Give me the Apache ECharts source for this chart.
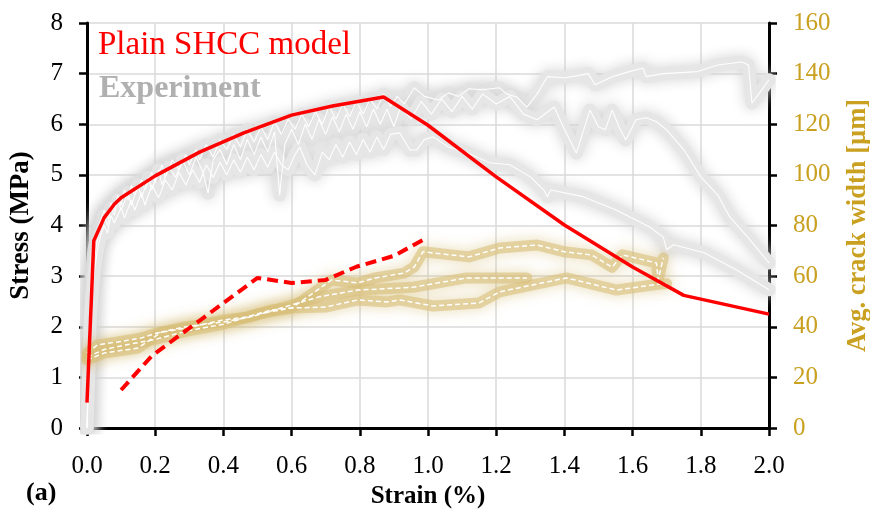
<!DOCTYPE html>
<html>
<head>
<meta charset="utf-8">
<title>Plain SHCC model vs experiment</title>
<script src="https://cdn.jsdelivr.net/npm/echarts@6/dist/echarts.min.js"></script>
<style>
  html, body { margin: 0; padding: 0; background: #fff; }
  #chart { width: 870px; height: 512px; }
</style>
</head>
<body>
<div id="chart"></div>
<script>
// ---- axis ranges / ticks ----
const strainTicks = [0, 2, 0.2];       // min, max, step (%)
const stressTicks = [0, 8, 1];         // MPa
const crackTicks = [0, 160, 20];       // µm

// ---- model: stress-strain (strain %, stress MPa) ----
const modelStress = [
  [0, 0.5], [0.02, 3.7], [0.05, 4.15], [0.08, 4.42], [0.1, 4.55], [0.2, 4.98],
  [0.33, 5.45], [0.46, 5.83], [0.6, 6.18], [0.72, 6.36], [0.87, 6.54],
  [1.0, 5.98], [1.2, 4.96], [1.4, 4.01], [1.6, 3.18], [1.75, 2.62], [2.0, 2.25]
];

// ---- model: average crack width (strain %, µm) ----
const modelCrack = [
  [0.1, 15], [0.19, 28.5], [0.5, 59.3], [0.6, 57.3], [0.7, 58.5],
  [0.79, 63.7], [0.9, 68], [0.985, 74.3]
];

// ---- experiments: stress-strain ----
const expStress1 = [
  [0, 0], [0.005, 1.5], [0.01, 2.8], [0.02, 3.5], [0.03, 3.9], [0.04, 4.1], [0.05, 4.3],
  [0.06, 4.15], [0.07, 4.45], [0.08, 4.3], [0.09, 4.6], [0.10, 4.4], [0.11, 4.7], [0.12, 4.5],
  [0.13, 4.8], [0.14, 4.6], [0.16, 4.9], [0.17, 4.7], [0.19, 5.05], [0.20, 4.85], [0.22, 5.2],
  [0.23, 4.95], [0.25, 5.3], [0.27, 5.1], [0.29, 5.4], [0.30, 5.2], [0.32, 5.5], [0.33, 5.3],
  [0.35, 5.6], [0.37, 5.35], [0.39, 5.7], [0.41, 5.5], [0.43, 5.8], [0.45, 5.55], [0.47, 5.9],
  [0.49, 5.65], [0.51, 5.95], [0.53, 5.7], [0.55, 6.05], [0.57, 5.8], [0.59, 6.1], [0.61, 5.9],
  [0.63, 6.2], [0.65, 5.95], [0.67, 6.25], [0.69, 6.0], [0.71, 6.35], [0.73, 6.1], [0.75, 6.4],
  [0.77, 6.15], [0.79, 6.45], [0.81, 6.2], [0.83, 6.5], [0.85, 6.3], [0.87, 6.6], [0.89, 6.35],
  [0.91, 6.55], [0.93, 6.4], [0.96, 6.72], [0.99, 6.55], [1.03, 6.48], [1.06, 6.62], [1.09, 6.55],
  [1.12, 6.7], [1.16, 6.68], [1.21, 6.72], [1.23, 6.6], [1.26, 6.54], [1.29, 6.34], [1.32, 6.6],
  [1.35, 6.94], [1.40, 6.92], [1.44, 6.96], [1.47, 7.0], [1.49, 6.78], [1.54, 6.94], [1.59, 7.04],
  [1.63, 7.11], [1.64, 6.94], [1.69, 7.0], [1.74, 7.02], [1.79, 7.04], [1.85, 7.17], [1.92, 7.23],
  [1.94, 7.17], [1.95, 6.42], [1.97, 6.6], [2.0, 6.88]
];
const expStress2 = [
  [0, 0], [0.005, 1.2], [0.01, 2.5], [0.02, 3.3], [0.03, 3.7], [0.04, 3.95], [0.05, 4.2],
  [0.06, 4.0], [0.07, 4.35], [0.08, 4.2], [0.09, 4.5], [0.10, 4.3], [0.12, 4.65], [0.13, 4.4],
  [0.15, 4.8], [0.16, 4.55], [0.18, 4.95], [0.19, 4.7], [0.21, 5.1], [0.22, 4.8], [0.24, 5.15],
  [0.26, 4.95], [0.28, 5.3], [0.30, 5.0], [0.32, 5.35], [0.34, 5.05], [0.355, 4.64], [0.37, 5.3],
  [0.39, 5.5], [0.41, 5.2], [0.43, 5.6], [0.45, 5.3], [0.47, 5.7], [0.49, 5.4], [0.51, 5.75],
  [0.53, 5.45], [0.55, 5.85], [0.565, 4.6], [0.58, 5.6], [0.60, 5.9], [0.62, 5.6], [0.64, 6.0],
  [0.66, 5.7], [0.68, 6.1], [0.70, 5.8], [0.72, 6.15], [0.74, 5.85], [0.76, 6.2], [0.78, 5.9],
  [0.80, 6.25], [0.82, 5.95], [0.84, 6.3], [0.86, 6.0], [0.88, 6.3], [0.90, 5.95], [0.92, 6.35],
  [0.95, 6.1], [0.98, 6.45], [1.01, 6.2], [1.04, 6.5], [1.07, 6.25], [1.10, 6.55], [1.13, 6.3],
  [1.16, 6.6], [1.20, 6.4], [1.24, 6.55], [1.28, 6.2], [1.32, 6.09], [1.37, 6.34], [1.40, 5.9],
  [1.435, 5.43], [1.475, 6.28], [1.50, 5.95], [1.52, 5.89], [1.54, 6.28], [1.56, 5.95],
  [1.58, 5.69], [1.61, 6.09], [1.64, 6.13], [1.67, 6.05], [1.70, 5.89], [1.75, 5.5], [1.80, 4.96],
  [1.85, 4.6], [1.885, 4.17], [1.94, 3.75], [2.0, 3.26]
];
const expStress3 = [
  [0, 0], [0.005, 1.0], [0.01, 2.2], [0.02, 3.0], [0.03, 3.5], [0.04, 3.8], [0.05, 4.0],
  [0.06, 3.85], [0.07, 4.2], [0.08, 4.05], [0.10, 4.35], [0.11, 4.15], [0.13, 4.5], [0.14, 4.3],
  [0.16, 4.65], [0.17, 4.4], [0.19, 4.8], [0.21, 4.55], [0.23, 4.9], [0.25, 4.7], [0.27, 5.05],
  [0.29, 4.8], [0.31, 5.1], [0.33, 4.85], [0.35, 5.2], [0.37, 4.95], [0.39, 5.25], [0.41, 5.0],
  [0.43, 5.3], [0.45, 5.05], [0.47, 5.35], [0.49, 5.1], [0.51, 5.4], [0.53, 5.15], [0.55, 5.45],
  [0.57, 5.2], [0.59, 5.1], [0.61, 5.4], [0.624, 5.55], [0.645, 5.2], [0.668, 5.0], [0.69, 5.45],
  [0.71, 5.3], [0.73, 5.6], [0.75, 5.35], [0.77, 5.65], [0.79, 5.4], [0.81, 5.7], [0.83, 5.45],
  [0.85, 5.75], [0.87, 5.5], [0.89, 5.8], [0.917, 5.83], [0.947, 5.49], [0.966, 5.49],
  [0.99, 5.7], [1.015, 5.75], [1.06, 5.55], [1.11, 5.45], [1.18, 5.24], [1.24, 5.2], [1.30, 4.96],
  [1.34, 4.70], [1.35, 4.57], [1.36, 4.70], [1.455, 4.57], [1.55, 4.31], [1.65, 3.97],
  [1.69, 3.77], [1.70, 3.52], [1.72, 3.62], [1.81, 3.46], [1.905, 3.12], [2.0, 2.73]
];

// ---- experiments: average crack width ----
const expCrack1 = [
  [0, 29.6], [0.03, 32.8], [0.09, 34], [0.16, 35.6], [0.205, 37.5], [0.29, 39.5], [0.40, 42.7],
  [0.47, 43.9], [0.54, 46.6], [0.60, 47.4], [0.66, 53], [0.717, 58.5], [0.794, 57.3],
  [0.845, 59.3], [0.93, 61.2], [0.96, 63.7], [0.985, 69.6], [1.12, 67.6], [1.21, 71.1],
  [1.32, 72.3], [1.40, 69.6], [1.48, 68.4], [1.54, 63.5], [1.57, 68.4], [1.67, 65.2],
  [1.675, 58.5], [1.69, 67.2]
];
const expCrack2 = [
  [0, 26.9], [0.05, 29.6], [0.15, 31.6], [0.22, 38], [0.29, 40], [0.40, 41.9], [0.48, 43.9],
  [0.60, 48.6], [0.68, 51.8], [0.794, 54.5], [0.917, 55.3], [0.96, 55.7], [1.113, 59.3],
  [1.29, 59.3]
];
const expCrack3 = [
  [0, 28], [0.05, 31], [0.12, 33], [0.2, 35], [0.3, 38.5], [0.4, 41], [0.5, 45], [0.6, 47.4],
  [0.70, 47.8], [0.794, 50.6], [0.88, 49.8], [0.917, 50.6], [1.015, 48.2], [1.15, 49.4],
  [1.21, 53.8], [1.406, 59.3], [1.553, 54.5], [1.68, 56.9], [1.70, 57]
];

// ---- texts ----
const legendModel = 'Plain SHCC model';
const legendExp = 'Experiment';
const panelTag = '(a)';
const xTitle = 'Strain (%)';
const yTitle = 'Stress (MPa)';
const y2Title = 'Avg. crack width [µm]';

const FONT = '"Liberation Serif", "DejaVu Serif", serif';
const GOLD = '#c9a020';
const GRID_C = '#dadada';

const chart = echarts.init(document.getElementById('chart'), null, { renderer: 'canvas' });

// soft halo behind each measured curve
const grayBand = (data) => ({
  type: 'line', data, yAxisIndex: 0, symbol: 'none', silent: true, z: 2,
  lineStyle: { color: '#e6e6e6', width: 13, shadowBlur: 14,
               shadowColor: 'rgba(210,210,210,1)', join: 'round', cap: 'round' }
});
const whiteTrace = (data, yIdx) => ({
  type: 'line', data, yAxisIndex: yIdx, symbol: 'none', silent: true, z: 4,
  lineStyle: { color: '#ffffff', width: 1.1, opacity: 0.95 }
});
const goldBand = (data) => ({
  type: 'line', data, yAxisIndex: 1, symbol: 'none', silent: true, z: 3,
  lineStyle: { color: 'rgba(216,192,124,0.6)', width: 11, shadowBlur: 14,
               shadowColor: 'rgba(212,186,110,0.9)', join: 'round', cap: 'round' }
});
const whiteDash = (data) => ({
  type: 'line', data, yAxisIndex: 1, symbol: 'none', silent: true, z: 4,
  lineStyle: { color: '#ffffff', width: 1.5, type: [5, 3] }
});

const axisCommon = {
  axisLine: { show: true, onZero: false, lineStyle: { color: '#000', width: 3 } },
  axisTick: { show: true, inside: false, length: 8, lineStyle: { color: '#000', width: 2.5 } },
  nameTextStyle: { fontFamily: FONT, fontWeight: 'bold', fontSize: 25, color: '#000' }
};

chart.setOption({
  animation: false,
  backgroundColor: '#fff',
  grid: { left: 87, right: 101, top: 23, bottom: 84, containLabel: false, outerBoundsMode: 'none' },
  xAxis: Object.assign({}, axisCommon, {
    type: 'value', min: strainTicks[0], max: strainTicks[1], interval: strainTicks[2],
    name: xTitle, nameLocation: 'middle', nameGap: 54,
    axisLabel: { fontFamily: FONT, fontSize: 25, color: '#000', margin: 26,
                 formatter: (v) => v.toFixed(1) },
    splitLine: { show: true, lineStyle: { color: GRID_C, width: 1.5 } }
  }),
  yAxis: [
    Object.assign({}, axisCommon, {
      type: 'value', position: 'left', min: stressTicks[0], max: stressTicks[1], interval: stressTicks[2],
      name: yTitle, nameLocation: 'middle', nameGap: 52, nameRotate: 90,
      nameTextStyle: { fontFamily: FONT, fontWeight: 'bold', fontSize: 27, color: '#000' },
      axisLabel: { fontFamily: FONT, fontSize: 25, color: '#000', margin: 24 },
      splitLine: { show: true, lineStyle: { color: GRID_C, width: 1.5 } }
    }),
    Object.assign({}, axisCommon, {
      type: 'value', position: 'right', min: crackTicks[0], max: crackTicks[1], interval: crackTicks[2],
      name: y2Title, nameLocation: 'middle', nameGap: 76, nameRotate: 90,
      nameTextStyle: { fontFamily: FONT, fontWeight: 'bold', fontSize: 26.5, color: GOLD },
      axisLabel: { fontFamily: FONT, fontSize: 25, color: GOLD, margin: 24 },
      splitLine: { show: false }
    })
  ],
  graphic: [
    { type: 'text', left: 98, top: 29, z: 10,
      style: { text: legendModel, fill: '#ff0000', font: '33px ' + FONT } },
    { type: 'text', left: 99, top: 73, z: 10,
      style: { text: legendExp, fill: '#b0b0b0', font: 'bold 32px ' + FONT } },
    { type: 'text', left: 26, top: 480, z: 10,
      style: { text: panelTag, fill: '#000', font: 'bold 26px ' + FONT } }
  ],
  series: [
    grayBand(expStress1), grayBand(expStress2), grayBand(expStress3),
    goldBand(expCrack1), goldBand(expCrack2), goldBand(expCrack3),
    whiteTrace(expStress1, 0), whiteTrace(expStress2, 0), whiteTrace(expStress3, 0),
    whiteDash(expCrack1), whiteDash(expCrack2), whiteDash(expCrack3),
    {
      type: 'line', name: legendModel, data: modelStress, yAxisIndex: 0, symbol: 'none', z: 6,
      lineStyle: { color: '#ff0000', width: 3.5, join: 'round' }
    },
    {
      type: 'line', name: 'crack', data: modelCrack, yAxisIndex: 1, symbol: 'none', z: 6,
      lineStyle: { color: '#ff0000', width: 4, type: [11, 6] }
    }
  ]
});
</script>
</body>
</html>
